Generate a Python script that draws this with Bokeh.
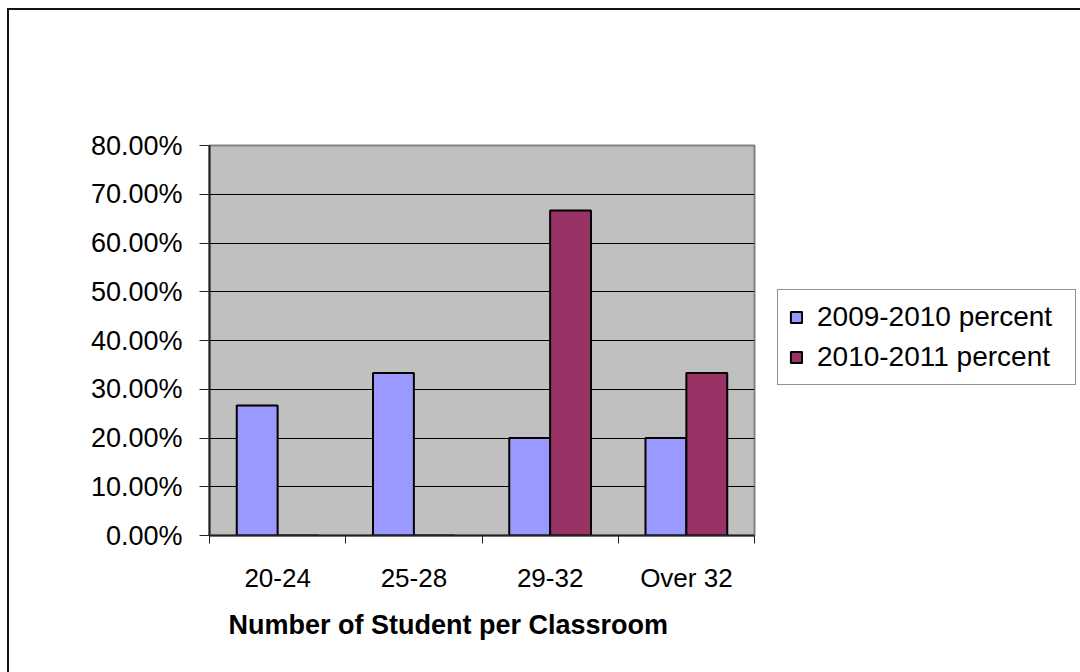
from bokeh.plotting import figure
from bokeh.models import (ColumnDataSource, Range1d, FixedTicker, PrintfTickFormatter,
                          Legend, LegendItem, Title)
from bokeh.transform import dodge
from bokeh.embed import file_html
from bokeh.resources import INLINE

categories = ["20-24", "25-28", "29-32", "Over 32"]
pct_2009_2010 = [26.67, 33.33, 20.0, 20.0]
pct_2010_2011 = [0.0, 0.0, 66.67, 33.33]
series_names = ["2009-2010 percent", "2010-2011 percent"]
y_ticks = [0, 10, 20, 30, 40, 50, 60, 70, 80]

centers = [i + 0.5 for i in range(len(categories))]
boundaries = [float(i) for i in range(len(categories) + 1)]

source = ColumnDataSource(dict(center=centers, a=pct_2009_2010, b=pct_2010_2011, cat=categories))

FONT = "Liberation Sans"

p = figure(frame_width=545, frame_height=390, output_backend="svg", toolbar_location=None,
           x_range=Range1d(0, len(categories)), y_range=Range1d(0, 80),
           min_border_left=200, min_border_right=0, min_border_top=135, min_border_bottom=137)
p.styles = {"margin-left": "7px", "margin-top": "8px",
            "border-left": "2px solid #111", "border-top": "2px solid #111"}

p.background_fill_color = "#C0C0C0"
p.border_fill_color = "white"
p.outline_line_color = "#808080"
p.outline_line_width = 2

r1 = p.vbar(x=dodge("center", -0.15, range=p.x_range), top="a", width=0.3, source=source,
            fill_color="#9999FF", line_color="black", line_width=2)
r2 = p.vbar(x=dodge("center", 0.15, range=p.x_range), top="b", width=0.3, source=source,
            fill_color="#993366", line_color="black", line_width=2)

# y axis
p.yaxis.ticker = FixedTicker(ticks=y_ticks)
p.yaxis.formatter = PrintfTickFormatter(format="%.2f%%")
p.yaxis.major_tick_out = 10
p.yaxis.major_tick_in = 0
p.yaxis.minor_tick_out = 0
p.yaxis.minor_tick_in = 0
p.yaxis.axis_line_color = "#222"
p.yaxis.axis_line_width = 2
p.yaxis.major_tick_line_color = "#222"
p.yaxis.major_tick_line_width = 1
p.yaxis.major_label_text_font = FONT
p.yaxis.major_label_text_font_size = "27px"
p.yaxis.major_label_text_color = "black"
p.yaxis.major_label_standoff = 17

# x axis
p.xaxis.ticker = FixedTicker(ticks=centers, minor_ticks=boundaries)
p.xaxis.major_label_overrides = {c: cat for c, cat in zip(centers, categories)}
p.xaxis.major_tick_out = 0
p.xaxis.major_tick_in = 0
p.xaxis.minor_tick_out = 8
p.xaxis.minor_tick_in = 0
p.xaxis.minor_tick_line_color = "#222"
p.xaxis.axis_line_color = "#222"
p.xaxis.axis_line_width = 2
p.xaxis.major_label_text_font = FONT
p.xaxis.major_label_text_font_size = "26px"
p.xaxis.major_label_text_color = "black"
p.xaxis.major_label_standoff = 19

p.xgrid.grid_line_color = None
p.ygrid.ticker = FixedTicker(ticks=y_ticks)
p.ygrid.grid_line_color = "black"
p.ygrid.grid_line_width = 1

p.add_layout(Title(text="Number of Student per Classroom", align="left", offset=19,
                   text_font=FONT, text_font_size="27px", text_font_style="bold",
                   text_color="black", standoff=24), "below")

legend = Legend(items=[LegendItem(label=series_names[0], renderers=[r1]),
                       LegendItem(label=series_names[1], renderers=[r2])],
                location=(23, 150), orientation="vertical",
                glyph_width=14, glyph_height=14, label_standoff=14, label_width=247,
                label_text_font=FONT, label_text_font_size="28px", label_text_color="black",
                padding=11, spacing=8, margin=0,
                border_line_color="#222", border_line_width=1,
                background_fill_color="white", background_fill_alpha=1.0)
p.add_layout(legend, "right")

open("out.html", "w").write(file_html(p, INLINE))
